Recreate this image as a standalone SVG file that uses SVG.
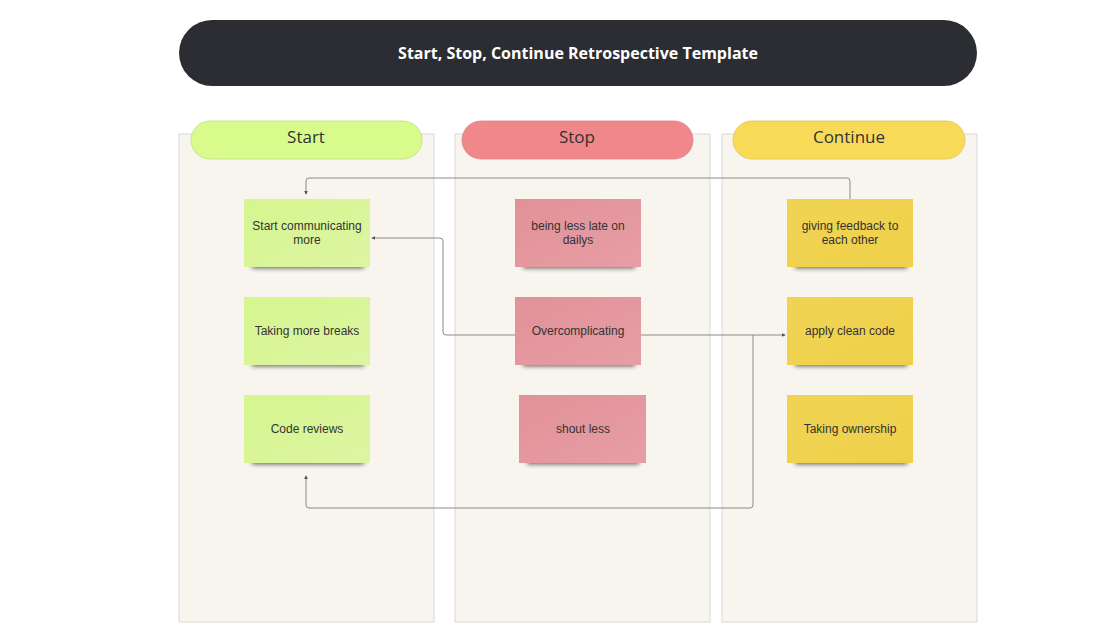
<svg xmlns="http://www.w3.org/2000/svg" width="1096" height="632" viewBox="0 0 1096 632">
<defs>
<style>
.panel{fill:#f8f5ee;stroke:#d9d9d9;stroke-width:1}
.hdr{font-family:"Open Sans","Liberation Sans",sans-serif;font-size:17px;fill:#333;text-anchor:middle}
.note{font-family:"Liberation Sans",Arial,sans-serif;font-size:12px;fill:#333;text-anchor:middle}
.conn{fill:none;stroke:#8a8a8a;stroke-width:1}
.shadow{fill:#000;opacity:0.65;filter:url(#blur)}
</style>
<filter id="blur" x="-20%" y="-100%" width="140%" height="300%"><feGaussianBlur stdDeviation="2.5"/></filter>
<linearGradient id="gGreen" x1="0" y1="0" x2="1" y2="1"><stop offset="0" stop-color="#d6f58f"/><stop offset="1" stop-color="#ddf5a2"/></linearGradient>
<linearGradient id="gRed" x1="0" y1="0" x2="1" y2="1"><stop offset="0" stop-color="#e29198"/><stop offset="1" stop-color="#e69ea4"/></linearGradient>
<linearGradient id="gYellow" x1="0" y1="0" x2="1" y2="1"><stop offset="0" stop-color="#efd454"/><stop offset="1" stop-color="#f0d04a"/></linearGradient>
<marker id="arr" viewBox="0 0 6 6" refX="5" refY="3" markerWidth="4" markerHeight="4" orient="auto" markerUnits="userSpaceOnUse"><path d="M0,0 L6,3 L0,6 z" fill="#555"/></marker>
</defs>
<rect width="1096" height="632" fill="#ffffff"/>

<g id="title">
<rect x="179" y="20" width="798" height="66" rx="33" fill="#2c2d32"/>
<text x="578" y="59" font-family="'Open Sans','Liberation Sans',sans-serif" font-size="16" font-weight="bold" fill="#ffffff" text-anchor="middle">Start, Stop, Continue Retrospective Template</text>
</g>

<g id="col-start">
<rect class="panel" x="179" y="134" width="255" height="488"/>
<rect x="191" y="121" width="231" height="38" rx="19" fill="#d8fb8b" stroke="#c3dc85" stroke-width="0.8"/>
<text class="hdr" x="306" y="143">Start</text>
</g>
<g id="col-stop">
<rect class="panel" x="455" y="134" width="255" height="488"/>
<rect x="462" y="121" width="231" height="38" rx="19" fill="#f0878a" stroke="#d98486" stroke-width="0.8"/>
<text class="hdr" x="577" y="143">Stop</text>
</g>
<g id="col-continue">
<rect class="panel" x="722" y="134" width="255" height="488"/>
<rect x="733" y="121" width="232" height="38" rx="19" fill="#f8da59" stroke="#dec25a" stroke-width="0.8"/>
<text class="hdr" x="849" y="143">Continue</text>
</g>

<g id="connectors">
<path class="conn" d="M850,199 V181 Q850,178 847,178 H309 Q306,178 306,181 V194" marker-end="url(#arr)"/>
<path class="conn" d="M515,335 H446 Q443,335 443,332 V241 Q443,238 440,238 H372" marker-end="url(#arr)"/>
<path class="conn" d="M641,335 H785" marker-end="url(#arr)"/>
<path class="conn" d="M753,335 V505 Q753,508 750,508 H309 Q306,508 306,505 V476" marker-end="url(#arr)"/>
</g>

<g id="n-start-1">
<rect class="shadow" x="252" y="262" width="112" height="6"/>
<rect x="244" y="199" width="126" height="68" fill="url(#gGreen)"/>
<text class="note" x="307" y="230">Start communicating</text>
<text class="note" x="307" y="244">more</text>
</g>
<g id="n-start-2">
<rect class="shadow" x="252" y="360" width="112" height="6"/>
<rect x="244" y="297" width="126" height="68" fill="url(#gGreen)"/>
<text class="note" x="307" y="335">Taking more breaks</text>
</g>
<g id="n-start-3">
<rect class="shadow" x="252" y="458" width="112" height="6"/>
<rect x="244" y="395" width="126" height="68" fill="url(#gGreen)"/>
<text class="note" x="307" y="433">Code reviews</text>
</g>

<g id="n-stop-1">
<rect class="shadow" x="523" y="262" width="112" height="6"/>
<rect x="515" y="199" width="126" height="68" fill="url(#gRed)"/>
<text class="note" x="578" y="230">being less late on</text>
<text class="note" x="578" y="244">dailys</text>
</g>
<g id="n-stop-2">
<rect class="shadow" x="523" y="360" width="112" height="6"/>
<rect x="515" y="297" width="126" height="68" fill="url(#gRed)"/>
<text class="note" x="578" y="335">Overcomplicating</text>
</g>
<g id="n-stop-3">
<rect class="shadow" x="527" y="458" width="112" height="6"/>
<rect x="519" y="395" width="127" height="68" fill="url(#gRed)"/>
<text class="note" x="583" y="433">shout less</text>
</g>

<g id="n-cont-1">
<rect class="shadow" x="795" y="262" width="112" height="6"/>
<rect x="787" y="199" width="126" height="68" fill="url(#gYellow)"/>
<text class="note" x="850" y="230">giving feedback to</text>
<text class="note" x="850" y="244">each other</text>
</g>
<g id="n-cont-2">
<rect class="shadow" x="795" y="360" width="112" height="6"/>
<rect x="787" y="297" width="126" height="68" fill="url(#gYellow)"/>
<text class="note" x="850" y="335">apply clean code</text>
</g>
<g id="n-cont-3">
<rect class="shadow" x="795" y="458" width="112" height="6"/>
<rect x="787" y="395" width="126" height="68" fill="url(#gYellow)"/>
<text class="note" x="850" y="433">Taking ownership</text>
</g>
</svg>
